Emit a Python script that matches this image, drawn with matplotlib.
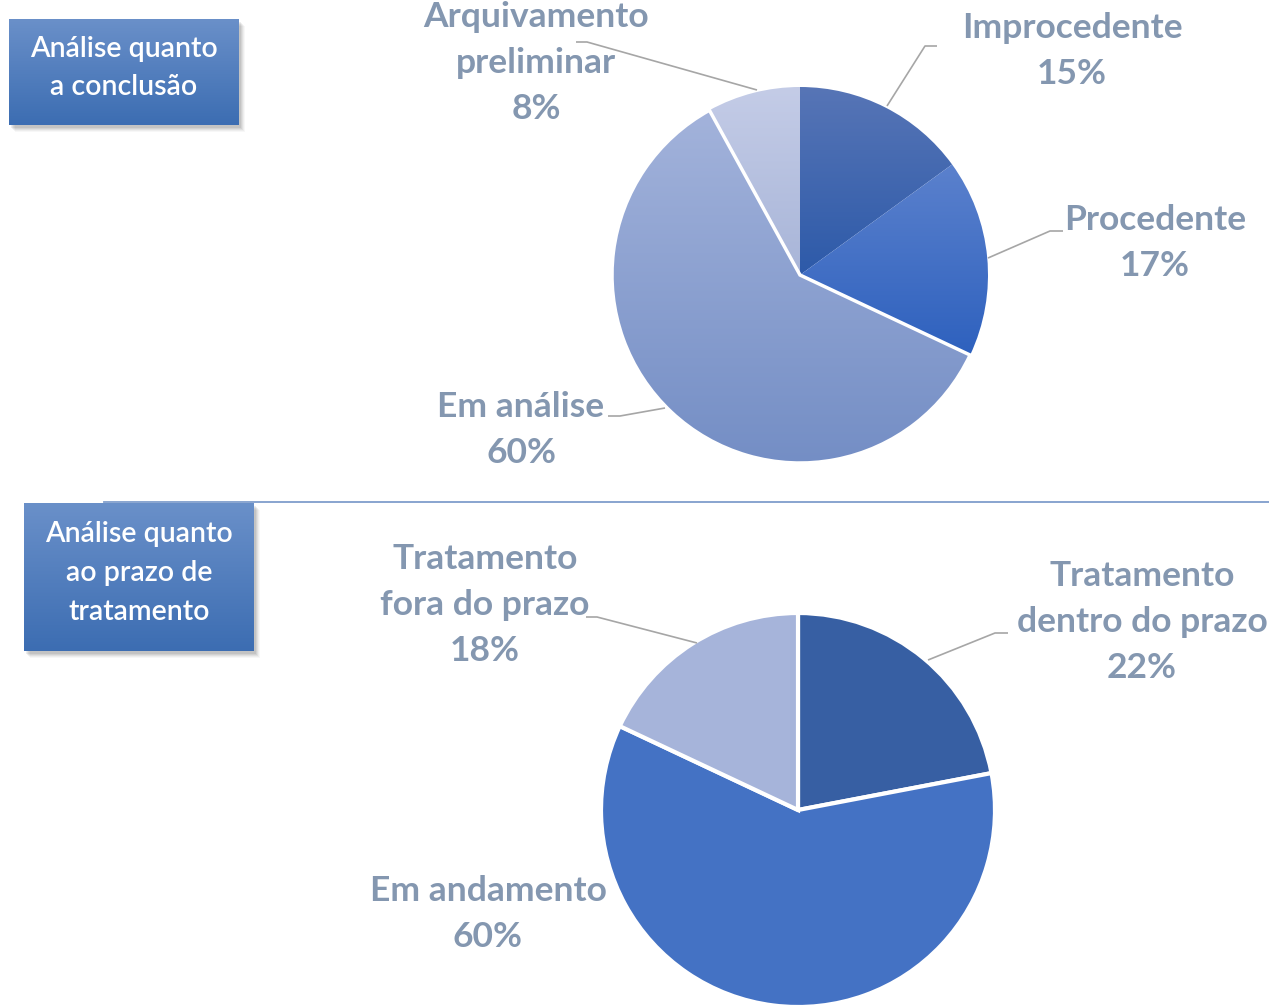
import numpy as np
import matplotlib
matplotlib.use("Agg")
from matplotlib import pyplot as plt
from matplotlib.colors import to_rgb
from matplotlib.patches import Rectangle

# data
conc_labels = ["Improcedente", "Procedente", "Em análise", "Arquivamento\npreliminar"]
conc_values = [15, 17, 60, 8]
prazo_labels = ["Tratamento\ndentro do prazo", "Em andamento", "Tratamento\nfora do prazo"]
prazo_values = [22, 60, 18]
box_titles = ["Análise quanto\na conclusão", "Análise quanto\nao prazo de\ntratamento"]

W, H = 1269, 1007
plt.rcParams['font.family'] = ['Lato', 'DejaVu Sans']
fig = plt.figure(figsize=(W / 100, H / 100), dpi=100)
ax = fig.add_axes([0, 0, 1, 1])

lab_col = '#8497B0'
line_col = '#A6A6A6'

def P(x, y):
    # pixel coords (y down) -> data coords (y up)
    return x, H - y

def grad_fill(patch, top, bottom, ext, z=2):
    x0, y0, x1, y1 = ext
    c0, c1 = np.array(to_rgb(bottom)), np.array(to_rgb(top))
    t = np.linspace(0, 1, 256)[:, None, None]
    img = c0 + (c1 - c0) * t
    im = ax.imshow(img, extent=[x0, x1, y0, y1], origin='lower', aspect='auto',
                   zorder=z, interpolation='bilinear')
    im.set_clip_path(patch)

# top pie: gradient slices
top_grad = [('#5775B6', '#2D5AA9'), ('#5B81CD', '#2E61BE'),
            ('#A3B3DB', '#748EC5'), ('#C4CCE7', '#A8B5D8')]
w1, _ = ax.pie(conc_values, startangle=90, counterclock=False, center=P(800, 275),
               radius=188, frame=True, colors=['none'] * 4,
               wedgeprops=dict(edgecolor='white', linewidth=0))
for w, (a, b) in zip(w1, top_grad):
    grad_fill(w, a, b, w.get_path().get_extents().extents)
    w.set_zorder(3)
w1[2].set_linewidth(2.5)

# bottom pie
w2, _ = ax.pie(prazo_values, startangle=90, counterclock=False, center=P(798, 810),
               radius=197, frame=True, colors=['#375FA3', '#4472C4', '#A6B4DA'],
               wedgeprops=dict(edgecolor='white', linewidth=3))

def lab(x, y, s, ha='center'):
    ax.text(*P(x, y), s, ha=ha, va='center', color=lab_col, fontsize=25.5,
            fontweight='bold', linespacing=1.52, zorder=6)

def leader(pts):
    xs, ys = zip(*[P(*p) for p in pts])
    ax.plot(xs, ys, color=line_col, lw=1.2, zorder=5, solid_capstyle='butt')

# top labels
lab(1072, 51, f"{conc_labels[0]}\n{conc_values[0]}%")
lab(1155, 243, f"{conc_labels[1]}\n{conc_values[1]}%")
lab(521, 430, f"{conc_labels[2]}\n{conc_values[2]}%")
lab(536, 63, f"{conc_labels[3]}\n{conc_values[3]}%")
leader([(887, 106), (925, 46), (937, 46)])
leader([(988, 258), (1050, 231), (1063, 231)])
leader([(757, 90), (587, 42), (576, 42)])
leader([(665, 408), (620, 416), (608, 416)])

# bottom labels
lab(1142, 622, f"{prazo_labels[0]}\n{prazo_values[0]}%")
lab(488, 914, f"{prazo_labels[1]}\n{prazo_values[1]}%")
lab(485, 605, f"{prazo_labels[2]}\n{prazo_values[2]}%")
leader([(928, 660), (995, 633), (1008, 633)])
leader([(697, 643), (597, 617), (586, 617)])

# separator line
ax.plot([104, W], [H - 502, H - 502], color='#7F9DCB', lw=1.3, zorder=1)

# title boxes
def title_box(x, y, w, h, text):
    for k, a in [(7, 0.03), (6, 0.04), (5, 0.05), (4, 0.06), (3, 0.07)]:
        ax.add_patch(Rectangle(P(x + k - 1, y + h + k), w, h, facecolor='black',
                               edgecolor='none', alpha=a, zorder=7))
    r = Rectangle(P(x, y + h), w, h, facecolor='white', edgecolor='none', zorder=8)
    ax.add_patch(r)
    x0, y0 = P(x, y + h)
    grad_fill(r, '#6A90C9', '#3C6DB2', (x0, y0, x0 + w, y0 + h), z=8.5)
    ax.text(*P(x + w / 2, y + h / 2 - 4), text, ha='center', va='center', color='white',
            fontsize=20.5, fontweight='semibold', linespacing=1.6, zorder=9)

title_box(9, 19, 230, 106, box_titles[0])
title_box(24, 503, 230, 148, box_titles[1])

ax.set_xlim(0, W)
ax.set_ylim(0, H)
ax.set_aspect('auto')
ax.axis('off')
fig.savefig('out.png', dpi=100)
